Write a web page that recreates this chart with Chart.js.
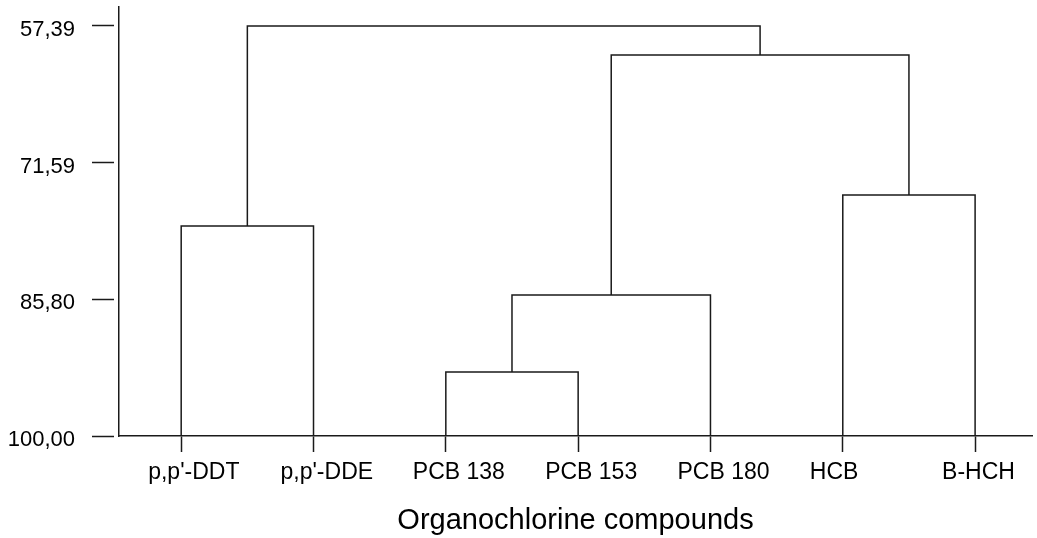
<!DOCTYPE html>
<html>
<head>
<meta charset="utf-8">
<script src="https://cdn.jsdelivr.net/npm/chart.js@4.4.1/dist/chart.umd.min.js"></script>
<style>
    body { margin: 0; background: #fff; }
    #wrap { width: 1037px; height: 538px; position: relative; }
</style>
</head>
<body>
<div id="wrap"><canvas id="chart"></canvas></div>
<script>
// leaves of the dendrogram, left to right
const leafNames = ["p,p'-DDT", "p,p'-DDE", 'PCB 138', 'PCB 153', 'PCB 180', 'HCB', 'B-HCH'];
// merges: node ids 0..6 are leaves, every merge makes node 7, 8, ...
const mergeLeft = [2, 7, 0, 5, 8, 9];
const mergeRight = [3, 4, 1, 6, 10, 11];
const mergeHeight = [93.35, 85.35, 78.18, 74.95, 60.40, 57.39];
const yTicks = [57.39, 71.59, 85.80, 100.00];
const leafLevel = 100;

const fontName = "'Liberation Sans', Arial, sans-serif";
const lineColor = '#1a1a1a';

// x position and height of every node
const nodeX = leafNames.map((_, i) => i);
const nodeH = leafNames.map(() => leafLevel);
const datasets = [];
for (let m = 0; m < mergeHeight.length; m++) {
    const l = mergeLeft[m];
    const r = mergeRight[m];
    const h = mergeHeight[m];
    datasets.push({
        data: [
            { x: nodeX[l], y: nodeH[l] },
            { x: nodeX[l], y: h },
            { x: nodeX[r], y: h },
            { x: nodeX[r], y: nodeH[r] }
        ],
        borderColor: lineColor,
        borderWidth: 1.5,
        pointRadius: 0,
        tension: 0,
        fill: false
    });
    nodeX.push((nodeX[l] + nodeX[r]) / 2);
    nodeH.push(h);
}

function noPadding(scale) {
    scale.paddingTop = 0;
    scale.paddingBottom = 0;
    scale.paddingLeft = 0;
    scale.paddingRight = 0;
}

const ctx = document.getElementById('chart').getContext('2d');
new Chart(ctx, {
    type: 'line',
    data: { datasets: datasets },
    options: {
        responsive: true,
        maintainAspectRatio: false,
        animation: false,
        events: [],
        layout: { padding: { left: 0, top: 7, right: 5, bottom: 0 } },
        plugins: {
            legend: { display: false },
            tooltip: { enabled: false }
        },
        scales: {
            x: {
                type: 'linear',
                min: -0.47,
                max: 6.43,
                afterBuildTicks: scale => {
                    scale.ticks = leafNames.map((_, i) => ({ value: i }));
                },
                afterFit: scale => {
                    scale.height = 102;
                    noPadding(scale);
                },
                border: { display: true, color: lineColor, width: 1.5 },
                grid: {
                    drawOnChartArea: false,
                    drawTicks: true,
                    tickLength: 16,
                    tickColor: lineColor,
                    tickWidth: 1.5
                },
                ticks: {
                    autoSkip: false,
                    maxRotation: 0,
                    align: 'start',
                    labelOffset: -33,
                    padding: 7,
                    color: '#000',
                    font: { family: fontName, size: 23 },
                    callback: value => leafNames[value]
                },
                title: {
                    display: true,
                    text: 'Organochlorine compounds',
                    color: '#000',
                    font: { family: fontName, size: 29 },
                    padding: { top: 0, bottom: 0 }
                }
            },
            y: {
                type: 'linear',
                reverse: true,
                min: 55.42,
                max: 100,
                afterBuildTicks: scale => {
                    scale.ticks = yTicks.map(v => ({ value: v }));
                },
                afterFit: scale => {
                    scale.width = 119;
                    noPadding(scale);
                },
                border: { display: true, color: lineColor, width: 1.5 },
                grid: {
                    drawOnChartArea: false,
                    drawTicks: true,
                    tickLength: 27,
                    tickColor: lineColor,
                    tickWidth: 1.5,
                    tickBorderDash: [22, 10]
                },
                ticks: {
                    padding: 17,
                    labelOffset: 4,
                    color: '#000',
                    font: { family: fontName, size: 22 },
                    callback: value => value.toFixed(2).replace('.', ',')
                }
            }
        }
    }
});
</script>
</body>
</html>
